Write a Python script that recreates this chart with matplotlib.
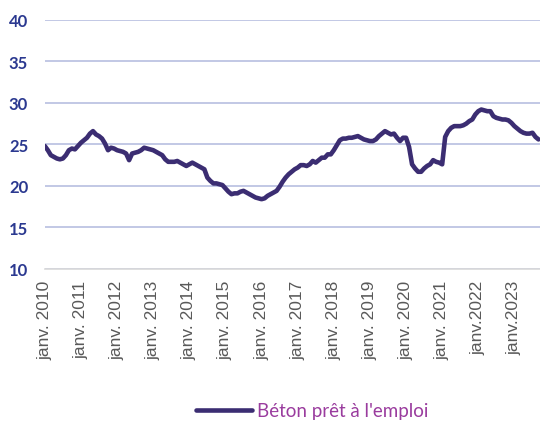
import matplotlib
matplotlib.use('Agg')
import matplotlib.pyplot as plt

# monthly values, janv. 2010 -> sept. 2023
values_2010 = [24.8, 24.3, 23.7, 23.5, 23.3, 23.2, 23.3, 23.7, 24.3, 24.5, 24.4, 24.8]
values_2011 = [25.2, 25.5, 25.8, 26.3, 26.6, 26.2, 26.0, 25.7, 25.1, 24.3, 24.6, 24.5]
values_2012 = [24.3, 24.2, 24.1, 23.9, 23.1, 23.9, 24.0, 24.1, 24.3, 24.6, 24.5, 24.4]
values_2013 = [24.3, 24.1, 23.9, 23.7, 23.2, 22.9, 22.9, 22.9, 23.0, 22.8, 22.6, 22.4]
values_2014 = [22.6, 22.8, 22.6, 22.4, 22.2, 22.0, 21.0, 20.6, 20.3, 20.3, 20.2, 20.1]
values_2015 = [19.7, 19.3, 19.0, 19.1, 19.1, 19.3, 19.4, 19.2, 19.0, 18.8, 18.6, 18.5]
values_2016 = [18.4, 18.5, 18.8, 19.0, 19.2, 19.4, 19.9, 20.5, 21.0, 21.4, 21.7, 22.0]
values_2017 = [22.2, 22.5, 22.5, 22.4, 22.6, 23.0, 22.8, 23.1, 23.4, 23.4, 23.8, 23.8]
values_2018 = [24.3, 24.9, 25.5, 25.7, 25.7, 25.8, 25.8, 25.9, 26.0, 25.8, 25.6, 25.5]
values_2019 = [25.4, 25.4, 25.6, 26.0, 26.3, 26.6, 26.4, 26.2, 26.3, 25.8, 25.4, 25.8]
values_2020 = [25.8, 24.7, 22.6, 22.1, 21.7, 21.7, 22.1, 22.4, 22.6, 23.1, 22.9, 22.8]
values_2021 = [22.6, 25.9, 26.6, 27.0, 27.2, 27.2, 27.2, 27.3, 27.5, 27.8, 28.0, 28.6]
values_2022 = [29.0, 29.2, 29.1, 29.0, 29.0, 28.4, 28.2, 28.1, 28.0, 28.0, 27.9, 27.6]
values_2023 = [27.2, 26.9, 26.6, 26.4, 26.3, 26.3, 26.4, 25.9, 25.6]

values = (values_2010 + values_2011 + values_2012 + values_2013 + values_2014 +
          values_2015 + values_2016 + values_2017 + values_2018 + values_2019 +
          values_2020 + values_2021 + values_2022 + values_2023)
months = list(range(len(values)))

tick_labels = ['janv. 2010', 'janv. 2011', 'janv. 2012', 'janv. 2013', 'janv. 2014',
               'janv. 2015', 'janv. 2016', 'janv. 2017', 'janv. 2018', 'janv. 2019',
               'janv. 2020', 'janv. 2021', 'janv.2022', 'janv.2023']
tick_pos = [12 * i for i in range(len(tick_labels))]

series_name = "Béton prêt à l'emploi"

fig = plt.figure(figsize=(5.4, 4.27), dpi=100)
ax = fig.add_axes([0.083, 0.368, 0.917, 0.583])

line, = ax.plot(months, values, color='#3b2d72', linewidth=3.3, solid_capstyle='round',
                solid_joinstyle='round', label=series_name, zorder=3)

ax.set_ylim(10, 40)
ax.set_yticks([10, 15, 20, 25, 30, 35, 40])
ax.set_xlim(0, 164.5)
ax.set_xticks(tick_pos)
ax.set_xticklabels(tick_labels, rotation=90, fontsize=12.5, color='#595959',
                   family='Liberation Sans')
for lab in ax.get_yticklabels():
    lab.set_fontfamily('Lato')
    lab.set_fontweight('bold')
    lab.set_fontsize(12)
    lab.set_color('#2b3990')

ax.tick_params(axis='both', length=0)
ax.tick_params(axis='x', pad=8)
ax.tick_params(axis='y', pad=12)

ax.grid(axis='y', color='#b7bfe0', linewidth=1.2)
ax.set_axisbelow(True)
for s in ['top', 'right', 'left']:
    ax.spines[s].set_visible(False)
ax.spines['bottom'].set_color('#d9d9d9')
ax.spines['bottom'].set_linewidth(1.2)

leg = fig.legend(handles=[line], loc='center', bbox_to_anchor=(312 / 540, 1 - 412 / 427),
                 frameon=False, handlelength=3.0, handletextpad=0.25,
                 prop={'family': 'Lato', 'size': 13.5})
for t in leg.get_texts():
    t.set_color('#9a3c9e')

fig.savefig('out.png', dpi=100)
